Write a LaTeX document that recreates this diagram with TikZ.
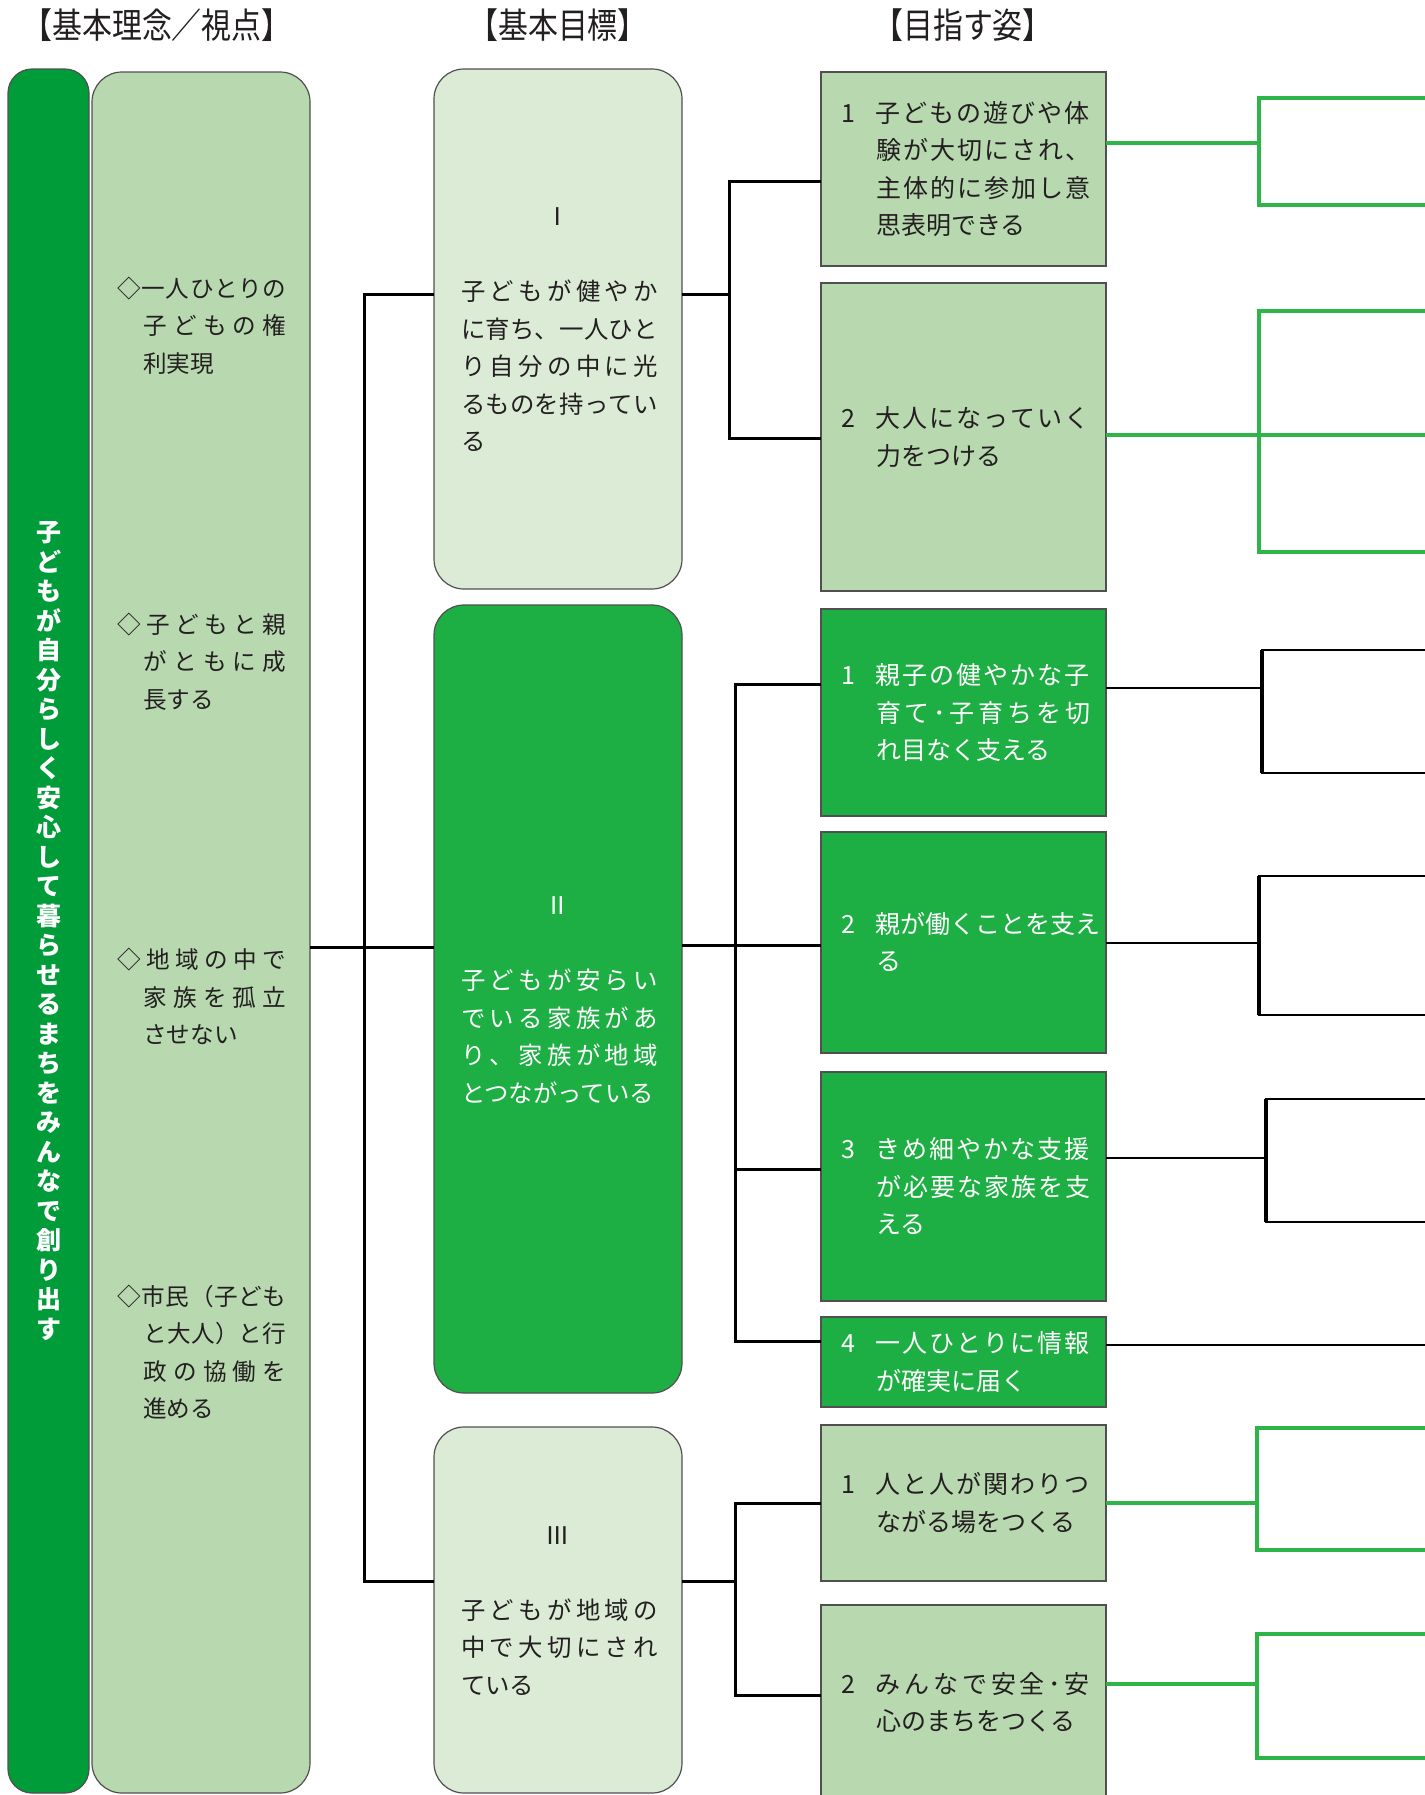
\documentclass[tikz,border=0pt]{standalone}
\usepackage{fontspec}
\newfontfamily\jp{Noto Sans CJK JP}
\newfontfamily\jphead[FakeStretch=0.85]{Noto Sans CJK JP}
\definecolor{dkgreen}{RGB}{0,156,58}
\definecolor{midgreen}{RGB}{30,175,68}
\definecolor{lgreen}{RGB}{184,216,176}
\definecolor{pgreen}{RGB}{220,235,214}
\definecolor{lnkgreen}{RGB}{46,180,72}
\definecolor{bordergray}{RGB}{80,80,80}
\definecolor{txt}{RGB}{35,31,32}
\newdimen\px \px=0.5pt
\makeatletter
\newcommand\jl[2]{\hbox to #1{\@tfor\jx:=#2\do{\jx\hfil}\unskip}}
\newcommand\vstk[1]{\vbox{\baselineskip=14.75pt\lineskiplimit=-100pt\@tfor\jx:=#1\do{\hbox to 81\px{\hss\jx\hss}}}}
\makeatother
\newcommand\jstrut{\vrule height .88em depth .12em width 0pt}
\newcommand\tb[1]{\vbox{\baselineskip=18.75pt\lineskiplimit=-100pt #1}}
% main column boxes
\newcommand\mfull[1]{\hbox to 248\px{\jstrut\hskip27\px\jl{197\px}{#1}\hss}}
\newcommand\mlast[1]{\hbox to 248\px{\jstrut\hskip27\px #1\hss}}
\newcommand\mcent[1]{\hbox to 248\px{\jstrut\hss #1\hss}}
\newcommand\mblank{\hbox{\jstrut}}
% goal boxes
\newcommand\gfirst[2]{\hbox to 285\px{\jstrut\hskip20\px\hbox to 35\px{#1\hfil}\jl{214\px}{#2}\hss}}
\newcommand\gfull[1]{\hbox to 285\px{\jstrut\hskip55\px\jl{214\px}{#1}\hss}}
\newcommand\glast[1]{\hbox to 285\px{\jstrut\hskip55\px #1\hss}}
% left box items
\newcommand\lfirst[1]{\hbox{\jstrut\jl{169\px}{#1}}}
\newcommand\lfull[1]{\hbox{\jstrut\hskip26\px\jl{143\px}{#1}}}
\newcommand\llast[1]{\hbox{\jstrut\hskip26\px #1}}

\tikzset{
  bx/.style={draw=bordergray, line width=0.6pt, inner sep=0pt, outer sep=0pt},
  vbarbox/.style={bx, fill=dkgreen, rounded corners=12pt, minimum width=81\px, minimum height=1724\px,
    text=white, font=\jp\bfseries\fontsize{12.5}{14.75}\selectfont},
  leftbox/.style={bx, fill=lgreen, rounded corners=15pt, minimum width=218\px, minimum height=1721\px},
  ltxt/.style={inner sep=0pt, text=txt, font=\jp\fontsize{11.8}{18.75}\selectfont},
  mainpale/.style={bx, fill=pgreen, rounded corners=15pt, minimum width=248\px, text=txt,
    font=\jp\fontsize{12.2}{18.75}\selectfont},
  maindark/.style={bx, fill=midgreen, rounded corners=15pt, minimum width=248\px, text=white,
    font=\jp\fontsize{12.2}{18.75}\selectfont},
  goalpale/.style={bx, fill=lgreen, line width=0.9pt, minimum width=285\px, text=txt,
    font=\jp\fontsize{12.5}{18.75}\selectfont},
  goaldark/.style={bx, fill=midgreen, line width=0.9pt, minimum width=285\px, text=white,
    font=\jp\fontsize{12.5}{18.75}\selectfont},
  head/.style={inner sep=0pt, text=txt, font=\jphead\fontsize{17.6}{20}\selectfont},
  conn/.style={line width=1.5pt, black, line join=miter},
  rk/.style={line width=1.1pt, black},
  rkb/.style={line width=2.2pt, black},
  rg/.style={line width=1.6pt, lnkgreen},
  rgb/.style={line width=2.4pt, lnkgreen},
}

\begin{document}
\begin{tikzpicture}[x=0.5pt, y=-0.5pt]
\fill[white] (0,0) rectangle (1425,1795);
\useasboundingbox (0,0) rectangle (1425,1795);

% headers
\node[head] (h1) at (157,25) {【基本理念／視点】};
\node[head] (h2) at (558,25) {【基本目標】};
\node[head] (h3) at (963,25) {【目指す姿】};

% left column
\node[vbarbox] (vb) at (48.5,931) {\vstk{子どもが自分らしく安心して暮らせるまちをみんなで創り出す}};
\node[leftbox] (L) at (201,932.5) {};
\node[ltxt, anchor=west] (t1) at (117,326) {\tb{\lfirst{◇一人ひとりの}\lfull{子どもの権}\llast{利実現}}};
\node[ltxt, anchor=west] (t2) at (117,662) {\tb{\lfirst{◇子どもと親}\lfull{がともに成}\llast{長する}}};
\node[ltxt, anchor=west] (t3) at (117,997.5) {\tb{\lfirst{◇地域の中で}\lfull{家族を孤立}\llast{させない}}};
\node[ltxt, anchor=west] (t4) at (117,1352.5) {\tb{\lfirst{◇市民（子ども}\lfull{と大人）と行}\lfull{政の協働を}\llast{進める}}};

% basic goals
\node[mainpale, minimum height=520\px] (b1) at (558,329) {\tb{\mcent{Ⅰ}\mblank
  \mfull{子どもが健やか}\mfull{に育ち、一人ひと}\mfull{り自分の中に光}\mfull{るものを持ってい}\mlast{る}}};
\node[maindark, minimum height=788\px] (b2) at (558,999) {\tb{\mcent{Ⅱ}\mblank
  \mfull{子どもが安らい}\mfull{でいる家族があ}\mfull{り、家族が地域}\mlast{とつながっている}}};
\node[mainpale, minimum height=366\px] (b3) at (558,1610) {\tb{\mcent{Ⅲ}\mblank
  \mfull{子どもが地域の}\mfull{中で大切にされ}\mlast{ている}}};

% goal boxes
\node[goalpale, minimum height=194\px] (g11) at (963.5,169) {\tb{\gfirst{1}{子どもの遊びや体}\gfull{験が大切にされ、}\gfull{主体的に参加し意}\glast{思表明できる}}};
\node[goalpale, minimum height=308\px] (g12) at (963.5,437) {\tb{\gfirst{2}{大人になっていく}\glast{力をつける}}};
\node[goaldark, minimum height=207\px] (g21) at (963.5,712.5) {\tb{\gfirst{1}{親子の健やかな子}\gfull{育て･子育ちを切}\glast{れ目なく支える}}};
\node[goaldark, minimum height=221\px] (g22) at (963.5,942.5) {\tb{\gfirst{2}{親が働くことを支え}\glast{る}}};
\node[goaldark, minimum height=229\px] (g23) at (963.5,1186.5) {\tb{\gfirst{3}{きめ細やかな支援}\gfull{が必要な家族を支}\glast{える}}};
\node[goaldark, minimum height=90\px] (g24) at (963.5,1362) {\tb{\gfirst{4}{一人ひとりに情報}\glast{が確実に届く}}};
\node[goalpale, minimum height=156\px] (g31) at (963.5,1503) {\tb{\gfirst{1}{人と人が関わりつ}\glast{ながる場をつくる}}};
\node[goalpale, minimum height=195\px] (g32) at (963.5,1702.5) {\tb{\gfirst{2}{みんなで安全･安}\glast{心のまちをつくる}}};

% connectors: left
\coordinate (jA) at (364,294);
\coordinate (jC) at (364,1581);
\draw[conn] (L.east |- 0,947) -- (b2.west |- 0,947);
\draw[conn] (b1.west |- jA) -- (jA) -- (jC) -- (b3.west |- jC);

% connectors: I
\coordinate (k1) at (729,181);
\coordinate (k2) at (729,438);
\draw[conn] (b1.east |- jA) -- (k1 |- jA);
\draw[conn] (g11.west |- k1) -- (k1) -- (k2) -- (g12.west |- k2);

% connectors: II
\coordinate (m1) at (735,684);
\coordinate (m4) at (735,1341);
\draw[conn] (g21.west |- m1) -- (m1) -- (m4) -- (g24.west |- m4);
\draw[conn] (b2.east |- 0,945) -- (g22.west |- 0,945);
\draw[conn] (m1 |- 0,1169) -- (g23.west |- 0,1169);

% connectors: III
\coordinate (n1) at (735,1503);
\coordinate (n2) at (735,1695);
\draw[conn] (b3.east |- jC) -- (n1 |- jC);
\draw[conn] (g31.west |- n1) -- (n1) -- (n2) -- (g32.west |- n2);

% right side brackets
\coordinate (r11) at (1259,143);
\draw[rg] (g11.east |- r11) -- (r11);
\draw[rg] (1430,98) -- (1259,98) -- (1259,205) -- (1430,205);
\draw[rgb] (1259,98) -- (1259,205);

\coordinate (r12) at (1259,435);
\draw[rg] (g12.east |- r12) -- (1430,435);
\draw[rg] (1430,311) -- (1259,311) -- (1259,552) -- (1430,552);
\draw[rgb] (1259,311) -- (1259,552);

\coordinate (r21) at (1262,688);
\draw[rk] (g21.east |- r21) -- (r21);
\draw[rk] (1430,650) -- (1262,650) -- (1262,773) -- (1430,773);
\draw[rkb] (1262,650) -- (1262,773);

\coordinate (r22) at (1259,943);
\draw[rk] (g22.east |- r22) -- (r22);
\draw[rk] (1430,876) -- (1259,876) -- (1259,1015) -- (1430,1015);
\draw[rkb] (1259,876) -- (1259,1015);

\coordinate (r23) at (1266,1158);
\draw[rk] (g23.east |- r23) -- (r23);
\draw[rk] (1430,1099) -- (1266,1099) -- (1266,1222) -- (1430,1222);
\draw[rkb] (1266,1099) -- (1266,1222);

\coordinate (r24) at (1430,1345);
\draw[rk] (g24.east |- r24) -- (r24);

\coordinate (r31) at (1257,1503);
\draw[rg] (g31.east |- r31) -- (r31);
\draw[rg] (1430,1428) -- (1257,1428) -- (1257,1550) -- (1430,1550);
\draw[rgb] (1257,1428) -- (1257,1550);

\coordinate (r32) at (1257,1684);
\draw[rg] (g32.east |- r32) -- (r32);
\draw[rg] (1430,1634) -- (1257,1634) -- (1257,1758) -- (1430,1758);
\draw[rgb] (1257,1634) -- (1257,1758);
\end{tikzpicture}
\end{document}
